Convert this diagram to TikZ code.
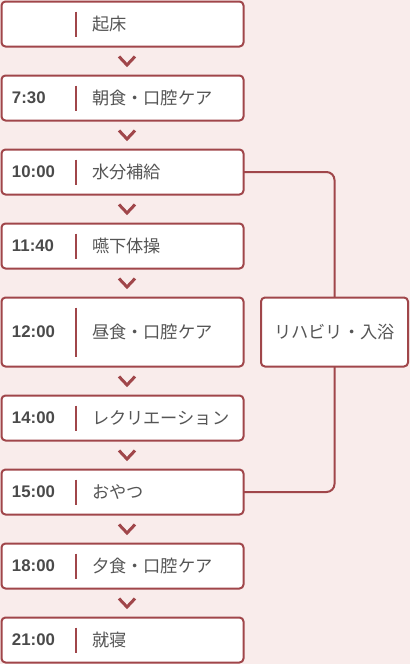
\documentclass[tikz,border=0pt]{standalone}
\usepackage{fontspec}
\setmainfont{Liberation Sans}
\newfontfamily\jp{Noto Sans CJK JP}
\usetikzlibrary{positioning}
\definecolor{bgpink}{HTML}{F9ECEB}
\definecolor{boxred}{HTML}{A0464A}
\definecolor{txtgray}{HTML}{555555}
\definecolor{timegray}{HTML}{4A4A4A}
\begin{document}
\begin{tikzpicture}[x=1pt, y=-1pt,
    every node/.style={inner sep=0pt, outer sep=0pt},
    stepbox/.style={draw=boxred, line width=2pt, fill=white, rounded corners=4pt, minimum width=242pt, anchor=north west},
    timelbl/.style={anchor=west, font=\fontsize{16.8}{19}\selectfont\bfseries, text=timegray},
    tasklbl/.style={anchor=west, font=\jp\fontsize{17.2}{19}\selectfont, text=txtgray},
    sep/.style={draw=boxred, line width=2pt},
    chev/.style={draw=boxred, line width=3pt},
    link/.style={draw=boxred, line width=2pt, rounded corners=8pt}]
                % Background
                \fill[bgpink] (0,0) rectangle (410,664);
                \useasboundingbox (0,0) rectangle (410,664);

                % Schedule boxes
                \foreach \i/\y/\h/\t/\txt in {1/1.5/45/{}/起床, 2/75.5/45/7:30/朝食・口腔ケア, 3/149.5/45/10:00/水分補給, 4/223.5/45/11:40/嚥下体操, 5/297.5/69/12:00/昼食・口腔ケア, 6/395.5/45/14:00/レクリエーション, 7/469.5/45/15:00/おやつ, 8/543.5/45/18:00/夕食・口腔ケア, 9/617.5/45/21:00/就寝} {
                    \node[stepbox, minimum height=\h pt] (B\i) at (1.5,\y) {};
                    \node[timelbl] (T\i) at (12,\y+\h/2) {\t};
                    \node[tasklbl] (L\i) at (92,\y+\h/2) {\txt};
                    \draw[sep] (76,\y+10) -- (76,\y+\h-10);
                }

                % Chevrons between boxes
                \foreach \i/\j in {1/2, 2/3, 3/4, 4/5, 5/6, 6/7, 7/8, 8/9} {
                    \path (B\i.south) -- (B\j.north) coordinate[pos=0.5, xshift=4.5pt] (C\i);
                    \draw[chev] ([shift={(-8,-4.5)}]C\i) -- ([shift={(0,4)}]C\i) -- ([shift={(8,-4.5)}]C\i);
                }

                % Rehabilitation box
                \node[draw=boxred, line width=2pt, fill=white, rounded corners=4pt, minimum width=147pt, minimum height=69pt, font=\jp\fontsize{17.2}{19}\selectfont, text=txtgray] (R) at (334.5,332) {リハビリ・入浴};

                % Connect to rehabilitation box
                \draw[link] (B3.east) -| (R.north);
                \draw[link] (R.south) |- (B7.east);
            \end{tikzpicture}
\end{document}
